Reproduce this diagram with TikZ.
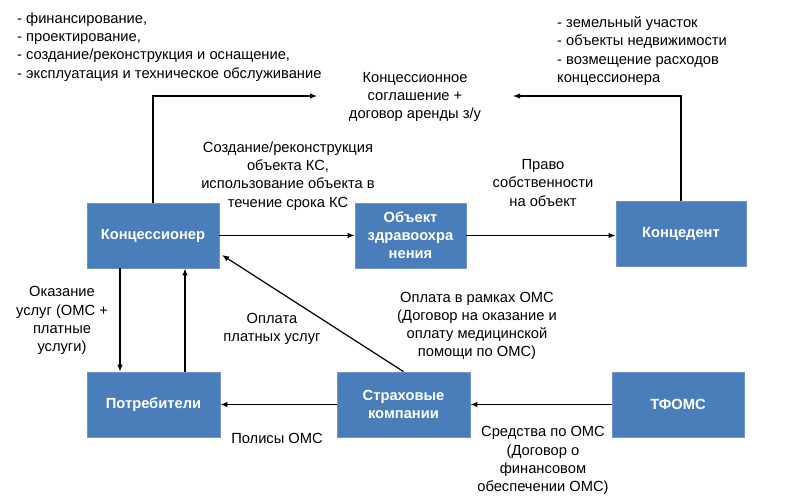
\documentclass[tikz,border=0pt]{standalone}
\usepackage{fontspec}
\setmainfont{Liberation Sans}
\usetikzlibrary{arrows.meta}
\definecolor{boxblue}{RGB}{74,126,187}
\definecolor{boxedge}{RGB}{110,150,205}
\begin{document}
\begin{tikzpicture}[x=1pt,y=-1pt,
  box/.style={draw=boxedge,fill=boxblue,line width=0.8pt,minimum width=132pt,minimum height=65pt,
    inner sep=2pt,align=center,text=white,font=\fontsize{14.7}{18}\selectfont\bfseries},
  lbl/.style={inner sep=0pt,align=center,font=\fontsize{14.7}{18.2}\selectfont},
  lst/.style={inner sep=0pt,align=left,anchor=west,font=\fontsize{14.7}{18.2}\selectfont},
  arr/.style={line width=1.2pt,-{Latex[length=7pt,width=5.5pt]}},
  ln/.style={line width=1.2pt}]
\useasboundingbox (0,0) rectangle (790,499);
% boxes
\node[box] (kon) at (153,235.5) {Концессионер};
\node[box,minimum width=111pt] (obj) at (410.5,235.5) {Объект\\здравоохра\\нения};
\node[box,minimum width=130pt] (ked) at (681,234) {Концедент};
\node[box,minimum width=133pt] (potr) at (153.5,404.5) {Потребители};
\node[box,minimum width=133pt] (str) at (403.5,404.5) {Страховые\\компании};
\node[box] (tf) at (678,404.5) {ТФОМС};
% texts
\node[lst] (t1) at (17,47) {- финансирование,\\- проектирование,\\- создание/реконструкция и оснащение,\\- эксплуатация и техническое обслуживание};
\node[lst] (t2) at (557,51) {- земельный участок\\- объекты недвижимости\\- возмещение расходов\\концессионера};
\node[lbl] (ks) at (415,97) {Концессионное\\соглашение +\\договор аренды з/у};
\node[lbl] (t3) at (288,176) {Создание/реконструкция\\объекта КС,\\использование объекта в\\течение срока КС};
\node[lbl] (t4) at (543,183) {Право\\собственности\\на объект};
\node[lbl] (t5) at (62,320.5) {Оказание\\услуг (ОМС +\\платные\\услуги)};
\node[lbl] (t6) at (272,329) {Оплата\\платных услуг};
\node[lbl] (t7) at (277,438) {Полисы ОМС};
\node[lbl] (t8) at (477,326) {Оплата в рамках ОМС\\(Договор на оказание и\\оплату медицинской\\помощи по ОМС)};
\node[lbl] (t9) at (543,460.5) {Средства по ОМС\\(Договор о\\финансовом\\обеспечении ОМС)};
% connector end points
\coordinate (c1) at (317,96);
\coordinate (c2) at (513,96);
\coordinate (c3) at (222,255);
% connectors
\draw[arr] (kon.north) |- (c1);
\draw[arr] (ked.north) |- (c2);
\draw[arr] (kon.east) -- (obj.west);
\draw[arr] (obj.east) -- (obj.east -| ked.west);
\draw[arr] ([xshift=-33pt]kon.south) -- ([xshift=-33.5pt]potr.north);
\draw[arr] ([xshift=31.5pt]potr.north) -- ([xshift=32pt]kon.south);
\draw[arr] (str.north) -- (c3);
\draw[arr] (str.west) -- (potr.east);
\draw[arr] (tf.west) -- (str.east);
\end{tikzpicture}
\end{document}
